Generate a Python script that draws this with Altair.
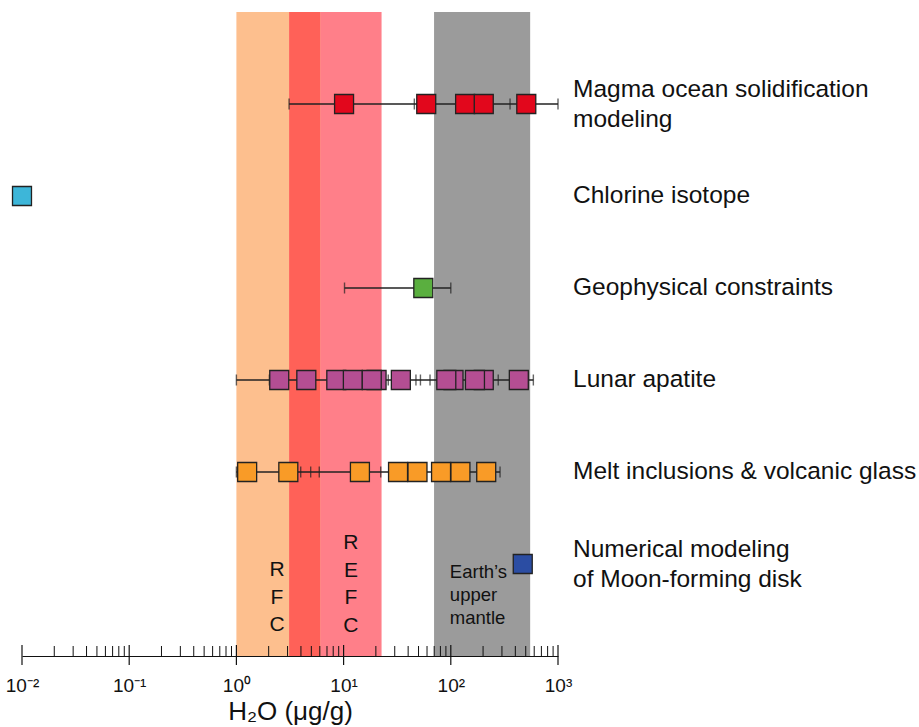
import altair as alt
import pandas as pd

# ---------------- data ----------------
row_keys = ["magma", "chlorine", "geophys", "apatite", "melt", "numerical"]
row_labels = [
    "Magma ocean solidification\nmodeling",
    "Chlorine isotope",
    "Geophysical constraints",
    "Lunar apatite",
    "Melt inclusions & volcanic glass",
    "Numerical modeling\nof Moon-forming disk",
]
row_colors = ["#E2071C", "#3DB6D9", "#5AAF3F", "#B44E93", "#F99B27", "#2B4DA3"]

magma_values = [10.1, 59, 136, 203, 506]
magma_caps = [3.1, 45.7, 357, 1000]
chlorine_values = [0.01]
chlorine_caps = []
geophys_values = [55.4]
geophys_caps = [10.2, 100]
apatite_values = [2.51, 4.49, 8.55, 12.2, 20.3, 18.3, 34.2, 106, 90.8, 203, 168, 431]
apatite_caps = [1.0, 2.03, 26.1, 47.3, 52.1, 64.0, 277, 589]
melt_values = [1.26, 3.05, 14.2, 32.2, 48.9, 81.1, 123, 214]
melt_caps = [1.0, 3.98, 4.93, 5.93, 22.2, 288]
numerical_values = [469]
numerical_caps = []

band_names = ["RFC", "overlap", "REFC", "mantle"]
band_lo = [1.0, 3.1, 6.12, 69.8]
band_hi = [3.1, 6.12, 22.6, 550]
band_colors = ["#FDBF8E", "#FF6158", "#FF7F89", "#9B9B9B"]

annot_texts = ["R\nF\nC", "R\nE\nF\nC", "Earth’s\nupper\nmantle"]

major_ticks = [0.01, 0.1, 1, 10, 100, 1000]
major_labels = ["10⁻²", "10⁻¹", "10⁰", "10¹", "10²", "10³"]
minor_ticks = [m * t for t in major_ticks[:-1] for m in range(2, 10)]

# ---------------- tables ----------------
values_by_row = [magma_values, chlorine_values, geophys_values,
                 apatite_values, melt_values, numerical_values]
caps_by_row = [magma_caps, chlorine_caps, geophys_caps,
               apatite_caps, melt_caps, numerical_caps]

pts = pd.DataFrame([{"row": k, "v": v, "o": i}
                    for k, vals in zip(row_keys, values_by_row)
                    for i, v in enumerate(vals)])
caps = pd.DataFrame([{"row": k, "v": v}
                     for k, cs in zip(row_keys, caps_by_row) for v in cs])
lines = pd.DataFrame([{"row": k, "lo": min(cs), "hi": max(cs)}
                      for k, cs in zip(row_keys, caps_by_row) if cs])
bands = pd.DataFrame({"band": band_names, "lo": band_lo, "hi": band_hi})
rows = pd.DataFrame({"row": row_keys, "label": row_labels})
rows1 = rows[~rows["label"].str.contains("\n")]
rows2 = rows[rows["label"].str.contains("\n")]
minor_df = pd.DataFrame({"t": minor_ticks})
major_df = pd.DataFrame({"t": major_ticks})

# ---------------- layout ----------------
W, H = 536, 644
FONT = "Liberation Sans"

label_expr = "''"
for val, lab in zip(reversed(major_ticks), reversed(major_labels)):
    label_expr = f"datum.value == {val} ? '{lab}' : ({label_expr})"

xscale = alt.Scale(type="log", domain=[0.01, 1000], nice=False)
xaxis = alt.Axis(
    values=major_ticks, labelExpr=label_expr, ticks=False, tickSize=0,
    grid=False, domainColor="#111", domainWidth=1.2,
    labelFont=FONT, labelFontSize=19, labelColor="#111", labelPadding=20,
    labelFlush=False,
    title="H₂O (μg/g)", titleFont=FONT, titleFontSize=26,
    titleFontWeight="normal", titleColor="#111",
    titleBaseline="alphabetic", titleY=63,
)
yscale = alt.Scale(type="point", domain=row_keys, padding=1)


def X(field):
    return alt.X(field, type="quantitative", scale=xscale, axis=xaxis)


def Xd(val):
    return alt.X(datum=val, type="quantitative", scale=xscale, axis=xaxis)


Y = alt.Y("row:N", scale=yscale, axis=None)

band_layer = alt.Chart(bands).mark_rect().encode(
    x=X("lo"), x2="hi",
    y=alt.value(0), y2=alt.value(H),
    color=alt.Color("band:N", scale=alt.Scale(domain=band_names, range=band_colors),
                    legend=None),
)


def annot(text, xval, ypix, size, lh, align):
    df = pd.DataFrame({"t": [text]})
    return alt.Chart(df).mark_text(
        lineBreak="\n", font=FONT, fontSize=size, lineHeight=lh,
        fontWeight="normal", align=align, baseline="middle", color="#111",
    ).encode(x=Xd(xval), y=alt.value(ypix), text="t:N")


rfc = annot(annot_texts[0], 2.39, 558, 21, 27.5, "center")
refc = annot(annot_texts[1], 11.7, 531, 21, 27.5, "center")
mantle = annot(annot_texts[2], 98, 560, 18.5, 23, "left")

line_layer = alt.Chart(lines).mark_rule(color="#222", strokeWidth=1.3).encode(
    x=X("lo"), x2="hi", y=Y,
)

cap_layer = alt.Chart(caps).mark_tick(
    color="#222", thickness=1.4, size=11, orient="vertical"
).encode(x=X("v"), y=Y)

pt_layer = alt.Chart(pts).mark_square(
    size=360, stroke="#222", strokeWidth=1.3, opacity=1
).encode(
    x=X("v"), y=Y,
    fill=alt.Fill("row:N", scale=alt.Scale(domain=row_keys, range=row_colors),
                  legend=None),
    order=alt.Order("o:Q"),
)

label_style = dict(align="left", baseline="middle", font=FONT, fontSize=24.5,
                   lineHeight=30, lineBreak="\n", color="#111")
label_layer1 = alt.Chart(rows1).mark_text(**label_style).encode(
    x=alt.value(W + 15), y=Y, text="label:N")
label_layer2 = alt.Chart(rows2).mark_text(dy=-14, **label_style).encode(
    x=alt.value(W + 15), y=Y, text="label:N")

minor_layer = alt.Chart(minor_df).mark_rule(color="#111", strokeWidth=1).encode(
    x=X("t"), y=alt.value(H - 10), y2=alt.value(H),
)
major_layer = alt.Chart(major_df).mark_rule(color="#111", strokeWidth=1.2).encode(
    x=X("t"), y=alt.value(H - 11), y2=alt.value(H + 9),
)

chart = alt.layer(
    band_layer, rfc, refc, mantle, line_layer, cap_layer, pt_layer,
    label_layer1, label_layer2, minor_layer, major_layer,
).resolve_scale(
    color="independent", fill="independent"
).properties(
    width=W, height=H,
    autosize=alt.AutoSizeParams(type="none"),
    padding={"left": 22, "top": 12, "right": 361, "bottom": 71},
    background="white",
).configure_view(stroke=None)

chart.save("out.html", embed_options={"renderer": "svg", "actions": False})
